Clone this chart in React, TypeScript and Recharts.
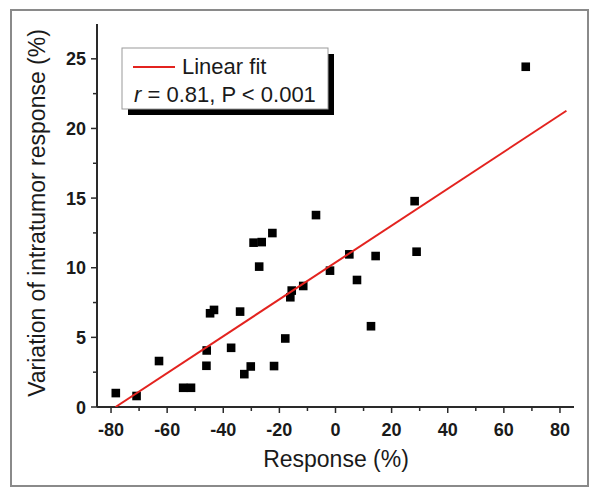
import React from 'react';
import { ScatterChart, Scatter, XAxis, YAxis } from 'recharts';

// Measured data (Response %, Variation of intratumor response %)
const responseX = [-78.3, -70.9, -62.9, -54.3, -51.5, -46.0, -45.9, -44.7, -43.3, -37.2, -34.0, -32.5, -30.2, -29.2, -26.3, -27.2, -22.5, -21.9, -17.9, -16.1, -15.6, -11.5, -6.95, -1.96, 4.93, 7.66, 12.65, 14.3, 28.2, 28.9, 67.8];
const variationY = [1.0, 0.79, 3.3, 1.38, 1.38, 2.96, 4.06, 6.73, 6.97, 4.25, 6.85, 2.36, 2.91, 11.8, 11.84, 10.08, 12.49, 2.94, 4.92, 7.88, 8.36, 8.69, 13.78, 9.79, 10.96, 9.12, 5.8, 10.84, 14.78, 11.15, 24.43];

// Linear fit end points
const fitX = [-78.4, 82.3];
const fitY = [0, 21.27];

const xTicks = [-80, -70, -60, -50, -40, -30, -20, -10, 0, 10, 20, 30, 40, 50, 60, 70, 80];
const yTicks = [0, 2.5, 5, 7.5, 10, 12.5, 15, 17.5, 20, 22.5, 25];
const xDomain = [-85, 85];
const yDomain = [0, 27.5];

const points = responseX.map((x, i) => ({ x, y: variationY[i] }));
const fitLine = fitX.map((x, i) => ({ x, y: fitY[i] }));

const FONT = '"Liberation Sans", Arial, sans-serif';
const AXIS = '#2a2a2a';

const isMajorX = (v: number) => Math.abs(v % 20) === 0;
const isMajorY = (v: number) => Math.abs(v % 5) === 0;

const BottomTick = (props: any) => {
  const { x, y, payload } = props;
  const v = payload.value;
  const major = isMajorX(v);
  return (
    <g>
      <line x1={x} x2={x} y1={y} y2={y + (major ? 6 : 4)} stroke={AXIS} strokeWidth={1.5} />
      {major && (
        <text x={x} y={y + 29} textAnchor="middle" fontWeight="bold" fontSize={18} fill="#1a1a1a" fontFamily={FONT}>
          {v}
        </text>
      )}
    </g>
  );
};

const TopTick = (props: any) => {
  const { x, y, payload } = props;
  const major = isMajorX(payload.value);
  return <line x1={x} x2={x} y1={y} y2={y + (major ? 6 : 4)} stroke={AXIS} strokeWidth={1.5} />;
};

const LeftTick = (props: any) => {
  const { x, y, payload } = props;
  const v = payload.value;
  const major = isMajorY(v);
  return (
    <g>
      <line x1={x} x2={x - (major ? 6 : 4)} y1={y} y2={y} stroke={AXIS} strokeWidth={1.5} />
      {major && (
        <text x={x - 11} y={y + 6.5} textAnchor="end" fontWeight="bold" fontSize={18} fill="#1a1a1a" fontFamily={FONT}>
          {v}
        </text>
      )}
    </g>
  );
};

const RightTick = (props: any) => {
  const { x, y, payload } = props;
  const major = isMajorY(payload.value);
  return <line x1={x} x2={x - (major ? 6 : 4)} y1={y} y2={y} stroke={AXIS} strokeWidth={1.5} />;
};

const Square = (props: any) => {
  const { cx, cy } = props;
  if (cx == null || cy == null) return <g />;
  return <rect x={cx - 4.3} y={cy - 4.3} width={8.6} height={8.6} fill="#000" />;
};

const NoDot = () => <g />;

export default function App() {
  return (
    <div style={{ position: 'absolute', left: 0, top: 0, width: 600, height: 497, background: '#fff' }}>
      <div
        style={{
          position: 'absolute',
          left: 10,
          top: 9,
          width: 579,
          height: 478,
          border: '2px solid #8a8a8a',
          boxSizing: 'border-box',
        }}
      />
      <div style={{ position: 'absolute', left: 0, top: 0 }}>
        <ScatterChart width={600} height={497} margin={{ top: 24, right: 26, bottom: 0, left: 0 }}>
          <XAxis
            xAxisId={0}
            type="number"
            dataKey="x"
            domain={xDomain}
            ticks={xTicks}
            interval={0}
            allowDataOverflow
            height={90}
            tickSize={0}
            tickMargin={0}
            tickLine={false}
            tick={<BottomTick />}
            axisLine={{ stroke: AXIS, strokeWidth: 2 }}
          />
          <XAxis
            xAxisId="top"
            orientation="top"
            type="number"
            dataKey="x"
            domain={xDomain}
            ticks={xTicks}
            interval={0}
            allowDataOverflow
            height={0}
            tickSize={0}
            tickMargin={0}
            tickLine={false}
            tick={<TopTick />}
            axisLine={{ stroke: AXIS, strokeWidth: 2 }}
          />
          <YAxis
            yAxisId={0}
            type="number"
            dataKey="y"
            domain={yDomain}
            ticks={yTicks}
            interval={0}
            allowDataOverflow
            width={97}
            tickSize={0}
            tickMargin={0}
            tickLine={false}
            tick={<LeftTick />}
            axisLine={{ stroke: AXIS, strokeWidth: 2 }}
          />
          <YAxis
            yAxisId="right"
            orientation="right"
            type="number"
            dataKey="y"
            domain={yDomain}
            ticks={yTicks}
            interval={0}
            allowDataOverflow
            width={0}
            tickSize={0}
            tickMargin={0}
            tickLine={false}
            tick={<RightTick />}
            axisLine={{ stroke: AXIS, strokeWidth: 2 }}
          />
          <Scatter data={points} xAxisId={0} yAxisId={0} shape={<Square />} isAnimationActive={false} />
          <Scatter
            data={fitLine}
            xAxisId={0}
            yAxisId={0}
            line={{ stroke: '#e3231f', strokeWidth: 2 }}
            lineType="joint"
            shape={<NoDot />}
            isAnimationActive={false}
          />
        </ScatterChart>
      </div>
      <svg
        width={600}
        height={497}
        style={{ position: 'absolute', left: 0, top: 0, pointerEvents: 'none' }}
      >
        {/* Legend box with shadow */}
        <rect x={128} y={54} width={206} height={61} fill="#000" />
        <rect x={122} y={48} width={206} height={61} fill="#fff" stroke="#9a9a9a" strokeWidth={1} />
        <line x1={133} x2={175} y1={67} y2={67} stroke="#e3231f" strokeWidth={2} />
        <text x={182} y={74} fontSize={22} fill="#1a1a1a" fontFamily={FONT}>
          Linear fit
        </text>
        <text x={134} y={102} fontSize={22} fill="#1a1a1a" fontFamily={FONT}>
          <tspan fontStyle="italic">r</tspan>
          <tspan> = 0.81, P &lt; 0.001</tspan>
        </text>
        {/* Axis titles */}
        <text x={336} y={467} textAnchor="middle" fontSize={23} fill="#1a1a1a" fontFamily={FONT}>
          Response (%)
        </text>
        <text
          x={0}
          y={0}
          transform="translate(45, 213) rotate(-90)"
          textAnchor="middle"
          fontSize={23}
          fill="#1a1a1a"
          fontFamily={FONT}
        >
          Variation of intratumor response (%)
        </text>
      </svg>
    </div>
  );
}
